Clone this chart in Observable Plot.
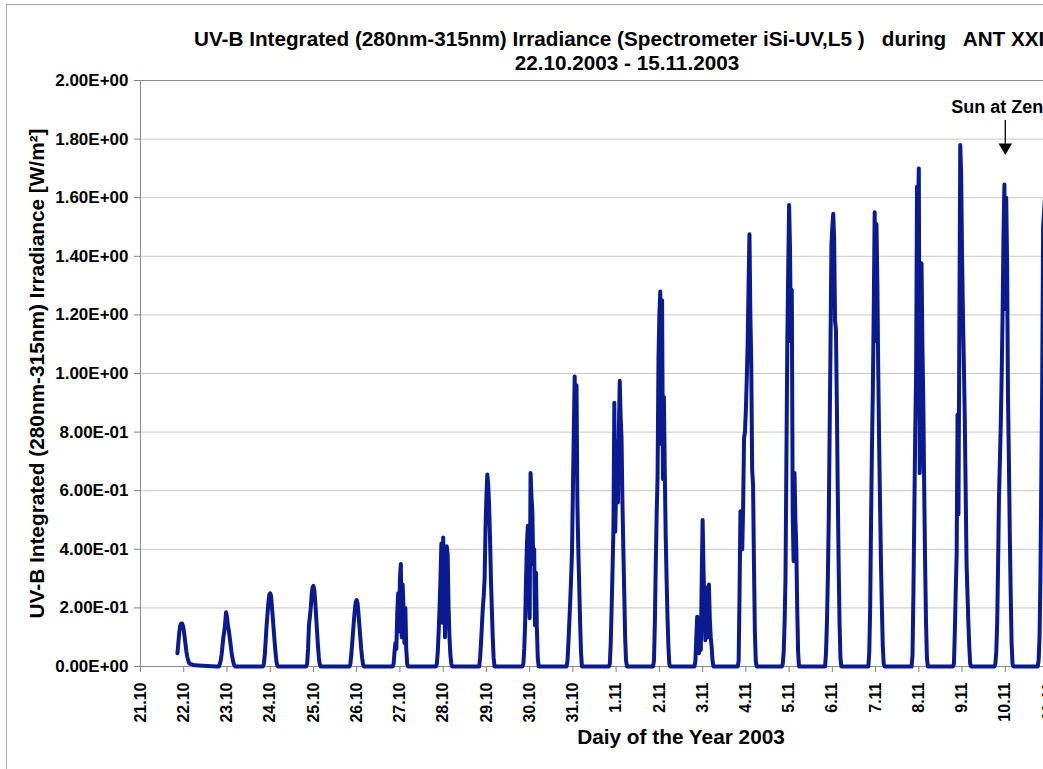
<!DOCTYPE html>
<html><head><meta charset="utf-8">
<script src="https://cdn.jsdelivr.net/npm/d3@7"></script>
<script src="https://cdn.jsdelivr.net/npm/@observablehq/plot@0.6"></script>
<style>
html,body{margin:0;padding:0;overflow:hidden;background:#fff;width:1043px;height:769px;}
#wrap{position:relative;width:1043px;height:769px;overflow:hidden;}
.outer{position:absolute;left:6px;top:4px;width:1230px;height:800px;border:1px solid #a8a8a8;box-sizing:border-box;}
.title{position:absolute;font-family:"Liberation Sans",Arial,sans-serif;font-weight:bold;font-size:20.7px;line-height:21px;white-space:pre;color:#000;}
#chart{position:absolute;left:0;top:0;}
</style></head><body>
<div id="wrap">
<div class="outer"></div>
<div id="chart"></div>
<div class="title" id="t1" style="left:194px;top:28px;"></div>
<div class="title" id="t2" style="left:227px;width:800px;text-align:center;top:52px;"></div>
</div>
<script>
// ---- text ----
const titleLine1 = "UV-B Integrated (280nm-315nm) Irradiance (Spectrometer iSi-UV,L5 )   during   ANT XXI/1";
const titleLine2 = "22.10.2003 - 15.11.2003";
const yLabel = "UV-B Integrated (280nm-315nm) Irradiance [W/m\u00B2]";
const xLabel = "Daiy of the Year 2003";

// ---- axis ticks ----
const dayLabels = ["21.10","22.10","23.10","24.10","25.10","26.10","27.10","28.10","29.10","30.10","31.10",
  "1.11","2.11","3.11","4.11","5.11","6.11","7.11","8.11","9.11","10.11","11.11","12.11","13.11","14.11","15.11"];
const xTicks = [0,1,2,3,4,5,6,7,8,9,10,11,12,13,14,15,16,17,18,19,20,21,22,23,24,25];
const yTicks = [0,0.2,0.4,0.6,0.8,1.0,1.2,1.4,1.6,1.8,2.0];

// ---- sample hours relative to each day's tick ----
const HOURS = [-6,-5.5,-5,-4.5,-4,-3.5,-3,-2.5,-2,-1.5,-1,-0.5,0,0.5,1,1.5,2,2.5,3,3.5,4,4.5,5,5.5,6];

// ---- irradiance [W/m2] per day (index = day offset from 21.10) ----
const irr_22_10 = [null,null,null,null,null,0.045,0.08,0.115,0.138,0.146,0.147,0.14,0.125,0.1,0.075,0.05,0.032,0.02,0.012,0.009,0.008,0.007,0.006,0.005,0.004];
const irr_23_10 = [0,0,0,0,0.008,0.02,0.04,0.07,0.1,0.118,0.15,0.185,0.17,0.14,0.125,0.1,0.075,0.05,0.03,0.015,0.005,0,0,0,0];
const irr_24_10 = [0,0,0,0,0,0.01,0.04,0.09,0.14,0.18,0.22,0.245,0.25,0.24,0.2,0.16,0.12,0.08,0.045,0.015,0.002,0,0,0,0];
const irr_25_10 = [0,0,0,0,0,0.01,0.06,0.14,0.17,0.2,0.245,0.27,0.275,0.26,0.22,0.17,0.12,0.07,0.03,0.008,0,0,0,0,0];
const irr_26_10 = [0,0,0,0,0,0.01,0.04,0.08,0.12,0.16,0.195,0.22,0.227,0.215,0.18,0.14,0.1,0.06,0.03,0.008,0,0,0,0,0];
const irr_27_10 = [0,0,0,0,0,0.01,0.05,0.08,0.06,0.18,0.25,0.12,0.3,0.35,0.1,0.28,0.2,0.08,0.2,0.06,0.01,0,0,0,0];
const irr_28_10 = [0,0,0,0,0,0.01,0.05,0.12,0.2,0.3,0.42,0.15,0.44,0.3,0.1,0.25,0.41,0.38,0.2,0.1,0.04,0.01,0,0,0];
const irr_29_10 = [0,0,0,0,0,0.03,0.08,0.14,0.2,0.24,0.3,0.47,0.58,0.655,0.62,0.55,0.44,0.3,0.2,0.1,0.03,0,0,0,0];
const irr_30_10 = [0,0,0,0,0,0.01,0.06,0.15,0.3,0.42,0.48,0.3,0.165,0.66,0.58,0.53,0.35,0.4,0.14,0.32,0.13,0.03,0,0,0];
const irr_31_10 = [0,0,0,0,0,0,0.02,0.08,0.15,0.22,0.3,0.39,0.6,0.8,0.99,0.75,0.96,0.55,0.4,0.28,0.15,0.05,0,0,0];
const irr_01_11 = [0,0,0,0,0,0.01,0.08,0.2,0.33,0.47,0.9,0.46,0.6,0.77,0.56,0.8,0.975,0.85,0.78,0.56,0.4,0.25,0.1,0.02,0];
const irr_02_11 = [0,0,0,0,0,0,0.02,0.15,0.35,0.52,0.65,1.05,1.2,1.28,0.76,1.25,0.64,0.92,0.67,0.45,0.3,0.17,0.07,0.01,0];
const irr_03_11 = [0,0,0,0,0.02,0.1,0.17,0.08,0.045,0.12,0.056,0.3,0.5,0.33,0.2,0.09,0.15,0.27,0.1,0.28,0.16,0.1,0.068,0.02,0];
const irr_04_11 = [0,0,0,0,0.02,0.25,0.53,0.45,0.4,0.55,0.78,0.8,0.875,0.98,1.1,1.3,1.475,1.2,1.035,0.67,0.62,0.35,0.12,0.02,0];
const irr_05_11 = [0,0,0,0,0,0.01,0.05,0.15,0.3,0.7,1.1,1.35,1.575,1.43,1.11,1.285,0.52,0.36,0.66,0.5,0.41,0.2,0.05,0,0];
const irr_06_11 = [0,0,0,0,0,0.05,0.15,0.3,0.5,0.8,1.1,1.44,1.5,1.545,1.46,1.18,1.15,0.9,0.6,0.35,0.15,0.03,0,0,0];
const irr_07_11 = [0,0,0,0,0,0.05,0.2,0.5,0.75,0.95,1.23,1.55,1.11,1.51,1.3,1.0,0.75,0.55,0.35,0.2,0.07,0.01,0,0,0];
const irr_08_11 = [0,0,0,0,0,0.04,0.25,0.52,0.8,1.0,1.637,1.5,1.7,0.66,0.83,1.376,1.09,0.9,0.6,0.35,0.15,0.03,0,0,0];
const irr_09_11 = [0,0,0,0.01,0.12,0.26,0.38,0.86,0.52,1.15,1.78,1.68,1.4,1.2,1.035,0.85,0.6,0.35,0.25,0.15,0.07,0.01,0,0,0];
const irr_10_11 = [0,0.01,0.05,0.15,0.35,0.58,0.7,0.83,1.0,1.2,1.47,1.645,1.22,1.6,1.376,0.92,0.7,0.45,0.25,0.08,0.01,0,0,0,0];
const irr_11_11 = [0,0.02,0.1,0.3,0.65,0.98,1.5,1.55,1.6,1.65,1.7,1.6,1.5,1.3,1.0,0.7,0.45,0.25,0.1,0.02,0,0,0,0,0];

const dayOffsets = [1,2,3,4,5,6,7,8,9,10,11,12,13,14,15,16,17,18,19,20,21];
const dayValues = [irr_22_10,irr_23_10,irr_24_10,irr_25_10,irr_26_10,irr_27_10,irr_28_10,irr_29_10,irr_30_10,irr_31_10,
  irr_01_11,irr_02_11,irr_03_11,irr_04_11,irr_05_11,irr_06_11,irr_07_11,irr_08_11,irr_09_11,irr_10_11,irr_11_11];

// ---- annotation ----
const noteText = ["Sun at Zenith"];
const noteDay = [20];
const noteTextY = [1.91];
const noteArrowFrom = [1.865];
const noteArrowTo = [1.78];
const noteHeadY = [1.772];

// build the series
const series = [];
dayOffsets.forEach((d, i) => {
  dayValues[i].forEach((v, j) => {
    if (v !== null) series.push({t: d + HOURS[j] / 24, v});
  });
});

function sci(v) {
  const [m, e] = v.toExponential(2).split("e");
  const sign = e[0] === "-" ? "-" : "+";
  return m + "E" + sign + String(Math.abs(+e)).padStart(2, "0");
}

document.getElementById("t1").textContent = titleLine1;
document.getElementById("t2").textContent = titleLine2;

const chart = Plot.plot({
  width: 1241,
  height: 769,
  marginLeft: 140,
  marginRight: 20,
  marginTop: 80,
  marginBottom: 103,
  x: {domain: [0, 25]},
  y: {domain: [0, 2]},
  style: {
    fontFamily: '"Liberation Sans", Arial, sans-serif',
    fontWeight: "bold",
    color: "black",
    background: "transparent",
    maxWidth: "none",
    overflow: "visible"
  },
  marks: [
    Plot.gridY(yTicks, {stroke: "#c8c8c8", strokeOpacity: 1}),
    Plot.frame({stroke: "#8c8c8c"}),
    Plot.axisY(yTicks, {tickFormat: sci, tickSize: 6, tickPadding: 6, fontSize: 17, stroke: "#808080", fill: "black", label: null}),
    Plot.axisX(xTicks, {tickFormat: d => dayLabels[d], tickSize: 6, tickPadding: 10, tickRotate: -90, fontSize: 16, stroke: "#808080", fill: "black", label: null}),
    Plot.line(series, {x: "t", y: "v", stroke: "#0a1a90", strokeWidth: 4}),
    Plot.text([yLabel], {text: d => d, frameAnchor: "left", textAnchor: "middle", dx: -103, rotate: -90, fontSize: 20.8, fill: "black"}),
    Plot.text([xLabel], {text: d => d, frameAnchor: "bottom", textAnchor: "middle", dy: 77, fontSize: 20.8, fill: "black"}),
    Plot.text(noteText, {text: d => d, x: noteDay, y: noteTextY, textAnchor: "start", dx: -54, fontSize: 18, fill: "black"}),
    Plot.link(noteText, {x1: noteDay, x2: noteDay, y1: noteArrowFrom, y2: noteArrowTo, stroke: "black", strokeWidth: 1.3}),
    Plot.dot(noteText, {x: noteDay, y: noteHeadY, symbol: "triangle", r: 5, rotate: 180, fill: "black", stroke: "none"})
  ]
});
document.getElementById("chart").appendChild(chart);
</script>
</body></html>
